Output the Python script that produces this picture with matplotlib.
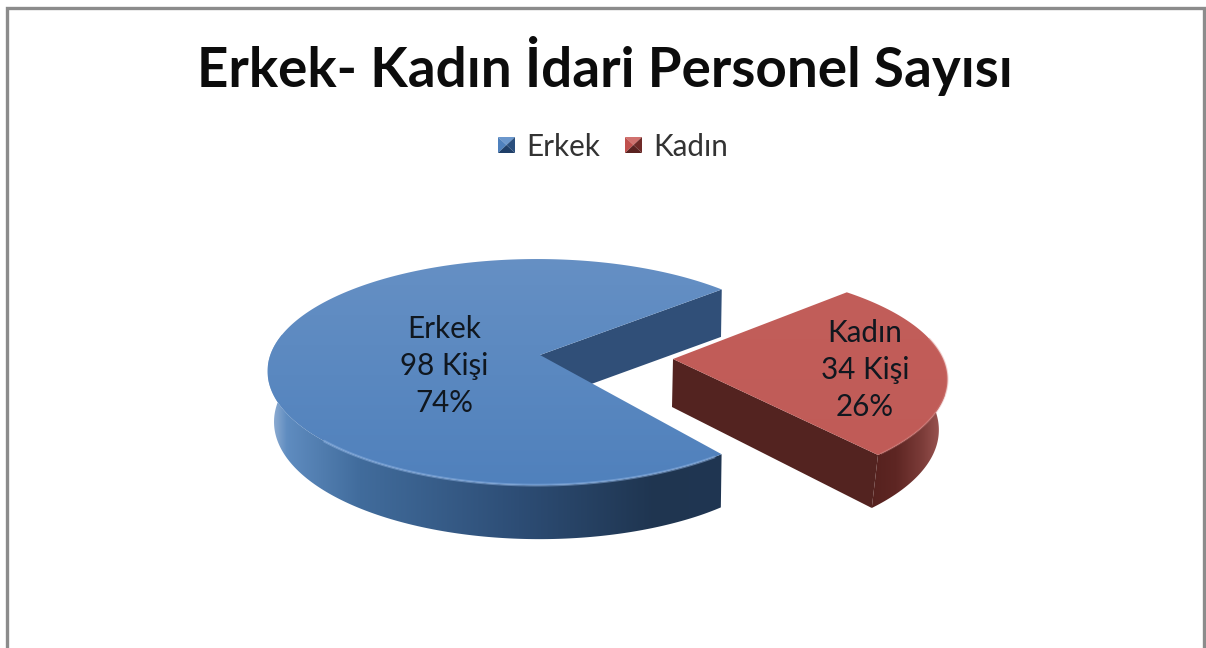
import numpy as np
import matplotlib
matplotlib.use("Agg")
import matplotlib.pyplot as plt
from matplotlib.colors import LinearSegmentedColormap
from matplotlib.patches import Polygon

title = "Erkek- Kadın İdari Personel Sayısı"
categories = ["Erkek", "Kadın"]
counts = [98, 34]
count_labels = ["98 Kişi", "34 Kişi"]
pct_labels = ["74%", "26%"]

plt.rcParams['font.family'] = ['Lato', 'DejaVu Sans']

# pie geometry in pixels
RY_BACK, RY_FRONT, PERSP = 109, 111, 0.16
BLUE_APEX = (540, 355)
BLUE_DISC = (537, 353, 266)
RED_APEX = (673, 359)
RED_DISC = (673, 361, 271)


def project(disc, theta, drop=False):
    # flat disc to screen with a little perspective, drop = bottom rim
    theta = np.radians(theta)
    x, y = np.cos(theta), np.sin(theta)
    s = 1 / (1 + PERSP * y)
    px = disc[0] + disc[2] * x * s
    py = disc[1] - np.where(y < 0, RY_FRONT, RY_BACK) * y * s
    if drop:
        # bottom rim sits lower and pulls in a bit towards the middle
        py = py + 50 - 4 * y
        px = 700 + (px - 700) * np.where(px > 700, 0.965, 0.985)
    return np.column_stack([np.atleast_1d(px), np.atleast_1d(py)])


def gradient_fill(ax, poly, cmap, extent, horizontal=True):
    n = 256
    g = np.linspace(0, 1, n)
    g = g[None, :] if horizontal else g[:, None]
    im = ax.imshow(g, cmap=cmap, extent=extent, aspect='auto', zorder=ax.zcount, interpolation='bilinear')
    patch = Polygon(poly, closed=True, transform=ax.transData, facecolor='none', edgecolor='none')
    ax.add_patch(patch)
    im.set_clip_path(patch)
    ax.zcount += 1


def draw_slice(ax, apex, disc, start, end, top_cmap, side_cmap, face_color, side_from, side_to, cut_at, side_extent):
    # cut face that faces the viewer
    c_top = project(disc, cut_at)[0]
    c_low = project(disc, cut_at, True)[0]
    low_apex = (apex[0] - 1, apex[1] + 48)
    ax.add_patch(Polygon([apex, c_top, c_low, low_apex], closed=True, facecolor=face_color,
                         edgecolor='none', zorder=ax.zcount))
    ax.zcount += 1
    # outer wall
    th = np.linspace(side_from, side_to, 200)
    wall = np.vstack([project(disc, th), project(disc, th[::-1], True)])
    gradient_fill(ax, wall, side_cmap, side_extent)
    # top surface
    th = np.linspace(start, end, 300)
    top = np.vstack([[apex], project(disc, th)])
    ext = (disc[0] - disc[2] - 10, disc[0] + disc[2] + 10, apex[1] + 140, apex[1] - 100)
    gradient_fill(ax, top, top_cmap, ext, horizontal=False)


fig = plt.figure(figsize=(12.06, 6.48), dpi=100)
ax = fig.add_axes([0, 0, 1, 1])
ax.zcount = 2

blue_top = LinearSegmentedColormap.from_list("bt", ["#6690c4", "#5a88c0", "#4f80bc"])
blue_side = LinearSegmentedColormap.from_list("bs", [(0, "#9db7d8"), (0.04, "#5f8cc0"), (0.2, "#416c9c"),
                                                     (0.55, "#2d4d75"), (0.85, "#1f3550"), (1, "#203652")])
red_top = LinearSegmentedColormap.from_list("rt", ["#c25e5a", "#c05b57"])
red_side = LinearSegmentedColormap.from_list("rs", [(0, "#55211e"), (0.35, "#5e2623"), (0.7, "#7c3c39"),
                                                    (0.9, "#95504d"), (1, "#b07472")])

total = sum(counts)
sweep = [v / total * 360 for v in counts]

# blue slice runs counter clockwise from its top corner
b_start = 40
b_end = b_start + sweep[0]
draw_slice(ax, BLUE_APEX, BLUE_DISC, b_start, b_end, blue_top, blue_side, "#304f78", 170, b_end, b_start,
           (268, 724, 560, 300))
th = np.linspace(225, b_end - 2, 120)
ax.plot(*project(BLUE_DISC, th).T, color="#8db2e2", lw=2.0, alpha=0.5, zorder=ax.zcount)
ax.zcount += 1

# red slice runs clockwise from its top corner
r_start = 44.5
r_end = r_start - sweep[1]
draw_slice(ax, RED_APEX, RED_DISC, r_start, r_end, red_top, red_side, "#532320", r_end, 12, r_end,
           (870, 945, 520, 380))
th = np.linspace(r_end + 1, 12, 60)
ax.plot(*project(RED_DISC, th).T, color="#d98683", lw=1.5, alpha=0.35, zorder=ax.zcount)
ax.zcount += 1

# frame, open at the bottom
ax.plot([6.5, 6.5, 1204, 1204], [648, 8, 8, 648], color="#8c8c8c", lw=2.4, zorder=1, solid_joinstyle='miter')

ax.text(605, 66, title, fontsize=39.4, fontweight='bold', color="#0c0c0c", ha='center', va='center', zorder=50)

# legend
legend_x = [498, 625]
text_x = [526, 653]
legend_cols = [("#4f81bd", "#2a4f7d", "#6b97cc", "#1f3f68"), ("#c0504d", "#6f2a28", "#d0716e", "#5a2220")]
for lx, tx, name, (c1, c2, c3, c4) in zip(legend_x, text_x, categories, legend_cols):
    x0, x1, y0, y1 = lx, lx + 17, 137, 153
    mx, my = (x0 + x1) / 2, (y0 + y1) / 2
    ax.add_patch(Polygon([(x0, y0), (x1, y0), (mx, my)], facecolor=c3, edgecolor='none', zorder=20))
    ax.add_patch(Polygon([(x0, y0), (x0, y1), (mx, my)], facecolor=c1, edgecolor='none', zorder=20))
    ax.add_patch(Polygon([(x1, y0), (x1, y1), (mx, my)], facecolor=c2, edgecolor='none', zorder=20))
    ax.add_patch(Polygon([(x0, y1), (x1, y1), (mx, my)], facecolor=c4, edgecolor='none', zorder=20))
    ax.text(tx, 147, name, fontsize=21.3, color="#333333", ha='left', va='center', zorder=50)

# data labels
label_pos = [(444, 366.5), (865, 370)]
for (lx, ly), name, c, p in zip(label_pos, categories, count_labels, pct_labels):
    ax.text(lx, ly - 37, name, fontsize=21.3, color="#10171f", ha='center', va='center', zorder=50)
    ax.text(lx, ly, c, fontsize=21.3, color="#10171f", ha='center', va='center', zorder=50)
    ax.text(lx, ly + 37, p, fontsize=21.3, color="#10171f", ha='center', va='center', zorder=50)

ax.set_xlim(0, 1206)
ax.set_ylim(648, 0)
ax.set_aspect('auto')
ax.axis('off')
fig.savefig("out.png", dpi=100, facecolor='white')
